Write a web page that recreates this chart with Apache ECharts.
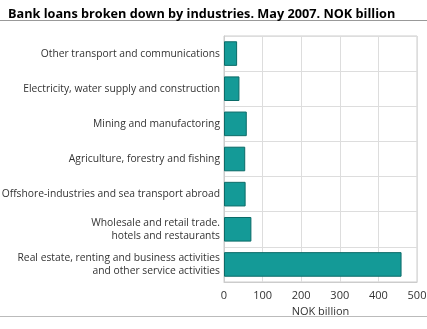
<!DOCTYPE html>
<html><head><meta charset="utf-8">
<script src="https://cdn.jsdelivr.net/npm/echarts@6/dist/echarts.min.js"></script>
<style>html,body{margin:0;padding:0;background:#fff}#c{width:427px;height:329px}</style>
</head><body><div id="c"></div>
<script>
const categories = [
  "Other transport and communications",
  "Electricity, water supply and construction",
  "Mining and manufactoring",
  "Agriculture, forestry and fishing",
  "Offshore-industries and sea transport abroad",
  "Wholesale and retail trade.\nhotels and restaurants",
  "Real estate, renting and business activities\nand other service activities"
];
const values = [34, 40, 59, 55, 56, 71, 460];
const xTicks = [0, 100, 200, 300, 400, 500];

const chart = echarts.init(document.getElementById('c'));
chart.setOption({
  animation: false,
  title: {
    text: "Bank loans broken down by industries. May 2007. NOK billion",
    left: 3, top: 3,
    textStyle: {fontFamily: "Open Sans", fontWeight: "bold", fontSize: 12.7, color: "#000"}
  },
  graphic: [
    {type: 'line', shape: {x1: 0, y1: 20.5, x2: 427, y2: 20.5}, style: {stroke: '#999', lineWidth: 1}},
    {type: 'line', shape: {x1: 0, y1: 316.5, x2: 427, y2: 316.5}, style: {stroke: '#bbb', lineWidth: 1}}
  ],
  grid: {left: 224, right: 10, top: 36, bottom: 47, containLabel: false, outerBoundsMode: 'none',
         show: true, borderColor: '#ccc', borderWidth: 1},
  xAxis: {
    type: 'value', min: xTicks[0], max: xTicks[xTicks.length - 1], interval: 100,
    name: 'NOK billion', nameLocation: 'middle', nameGap: 23,
    nameTextStyle: {fontFamily: "Open Sans", fontSize: 11, color: '#333'},
    axisLine: {show: true, lineStyle: {color: '#ccc'}},
    axisTick: {show: false},
    axisLabel: {fontFamily: "Open Sans", fontSize: 11, color: '#333', margin: 8},
    splitLine: {show: true, lineStyle: {color: '#ddd', width: 1}}
  },
  yAxis: {
    type: 'category', data: categories, inverse: true,
    axisLine: {show: true, lineStyle: {color: '#ccc'}},
    axisTick: {show: false},
    axisLabel: {fontFamily: "Open Sans", fontSize: 10.3, color: '#333', margin: 4, lineHeight: 13, align: 'right'},
    splitLine: {show: true, lineStyle: {color: '#ddd', width: 1}}
  },
  series: [{
    type: 'bar', data: values, barCategoryGap: '30%',
    itemStyle: {color: '#149a97', borderColor: '#0b6b68', borderWidth: 1}
  }]
});
</script></body></html>
